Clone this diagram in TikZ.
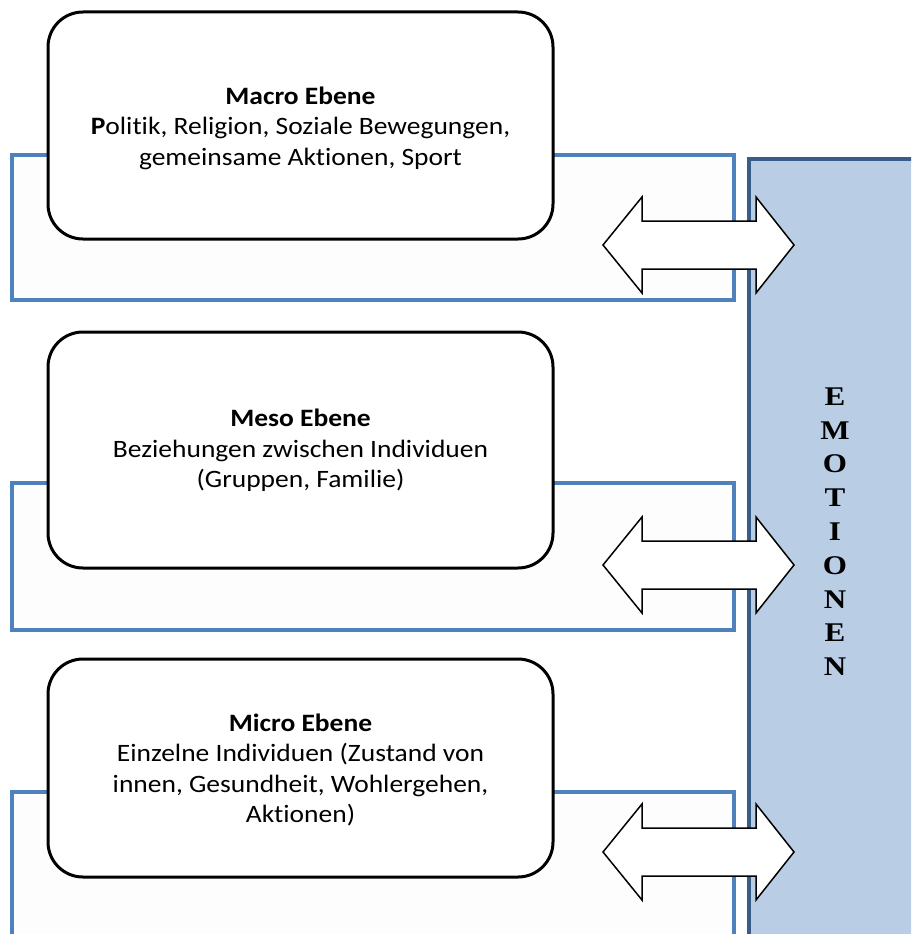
\documentclass[tikz,border=0pt]{standalone}
\usepackage{fontspec}
\setmainfont{Carlito}
\newfontfamily\boxfont{Carlito}[FakeStretch=1.1, Ligatures=NoCommon]
\newfontfamily\emofont{Liberation Serif}[FakeStretch=1.15]
\definecolor{lineblue}{RGB}{79,129,189}
\definecolor{panelfill}{RGB}{185,205,229}
\definecolor{paneldraw}{RGB}{56,93,138}
\definecolor{framefill}{RGB}{253,253,253}
\tikzset{
  levelbox/.style={draw=black, line width=3pt, rounded corners=35pt, fill=white,
    align=center, font=\boxfont\fontsize{25}{30.5}\selectfont, inner sep=0pt},
  frameline/.style={draw=lineblue, line width=4pt},
  dblarrow/.style={draw=black, line width=1.5pt, fill=white, line join=miter},
  emoletter/.style={font=\emofont\bfseries\fontsize{27}{27}\selectfont, inner sep=0pt}
}
\begin{document}
\begin{tikzpicture}[x=1pt,y=-1pt]
\useasboundingbox (0,0) rectangle (911,934);
\clip (0,0) rectangle (911,934);
\fill[white] (0,0) rectangle (911,934);
% Emotionen panel
\draw[fill=panelfill, draw=paneldraw, line width=3.5pt] (749,159) rectangle (930,950);
% blue frames
\draw[frameline, fill=framefill] (12,155) rectangle (734,300);
\draw[frameline, fill=framefill] (12,483) rectangle (734,630);
\fill[framefill] (12,792) rectangle (734,950);
\draw[frameline] (12,950) -- (12,792) -- (734,792) -- (734,950);
% level boxes
\node[levelbox, minimum width=505pt, minimum height=227pt] (macro) at (300.5,125.5)
  {\rule{0pt}{23pt}\textbf{Macro Ebene}\\\textbf{P}olitik, Religion, Soziale Bewegungen,\\gemeinsame Aktionen, Sport};
\node[levelbox, minimum width=505pt, minimum height=236pt] (meso) at (300.5,450)
  {\rule{0pt}{19pt}\textbf{Meso Ebene}\\Beziehungen zwischen Individuen\\(Gruppen, Familie)};
\node[levelbox, minimum width=505pt, minimum height=218pt] (micro) at (300.5,768)
  {\rule{0pt}{21pt}\textbf{Micro Ebene}\\Einzelne Individuen (Zustand von\\innen, Gesundheit, Wohlergehen,\\Aktionen)};
% double arrows
\foreach \cy in {245,565,852}{
  \draw[dblarrow] (603,\cy) -- (642,\cy-48) -- (642,\cy-24) -- (756,\cy-24) -- (756,\cy-48)
    -- (794,\cy) -- (756,\cy+48) -- (756,\cy+24) -- (642,\cy+24) -- (642,\cy+48) -- cycle;
}
% EMOTIONEN
\foreach \l [count=\i from 0] in {E,M,O,T,I,O,N,E,N}{
  \node[emoletter] (emo\i) at (835,396.5+33.8*\i) {\l};
}
\end{tikzpicture}
\end{document}
